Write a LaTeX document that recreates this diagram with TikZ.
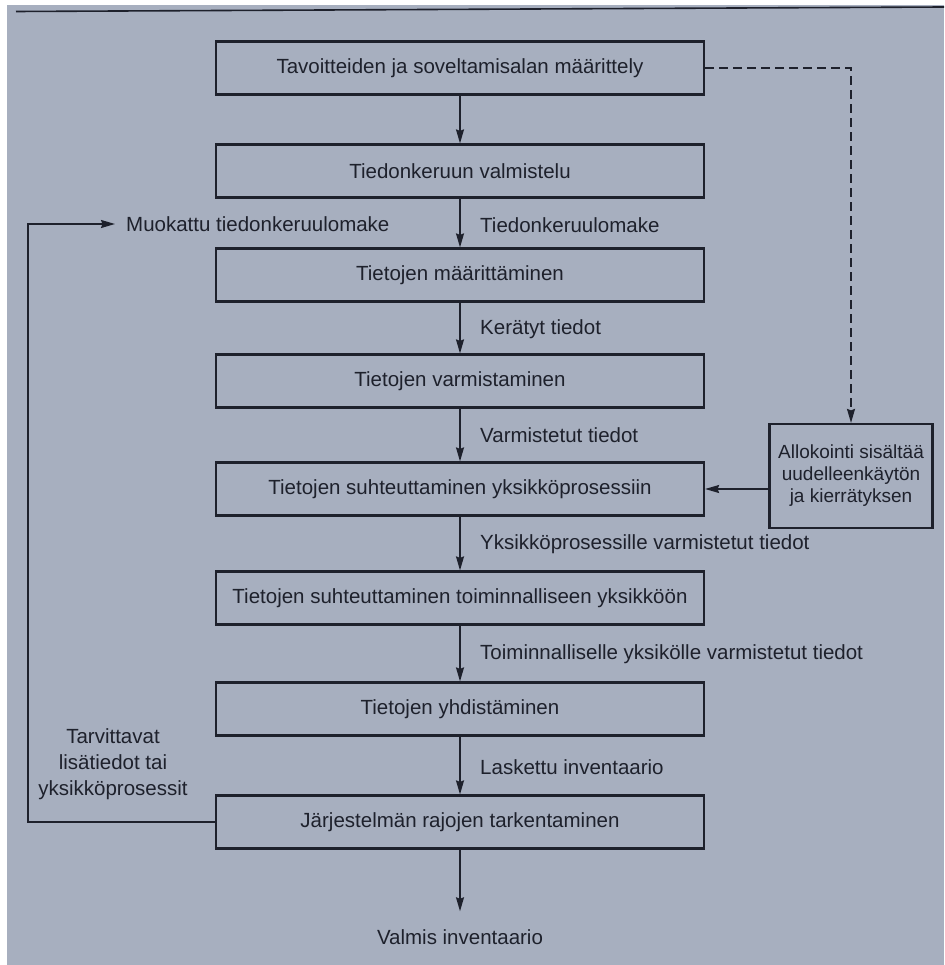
\documentclass[tikz,border=0pt]{standalone}
\usepackage{fontspec}
\setmainfont{Liberation Sans}
\usetikzlibrary{arrows.meta}
\definecolor{paper}{RGB}{167,175,191}
\definecolor{ink}{RGB}{30,33,44}
\begin{document}
\begin{tikzpicture}[x=1pt,y=-1pt,
  stepbox/.style={draw=ink, line width=2.2pt, minimum width=488pt,
    minimum height=53pt, inner sep=0pt, text=ink,
    font=\fontsize{20.5}{24}\selectfont},
  sidebox/.style={draw=ink, line width=2.2pt, minimum width=163pt,
    minimum height=104pt, inner sep=0pt, text=ink, align=center,
    font=\fontsize{19}{22}\selectfont},
  flowlabel/.style={anchor=west, inner sep=0pt, text=ink,
    font=\fontsize{20.5}{24}\selectfont},
  flow/.style={draw=ink, line width=1.5pt,
    -{Stealth[length=14pt,width=8pt,inset=1.5pt]}},
]
% page and the rule at its top
\useasboundingbox (0,0) rectangle (944,965);
\fill[white] (0,0) rectangle (944,965);
\fill[paper] (7,5) rectangle (944,965);
\draw[ink, line width=1.6pt] (16,11.5) -- (944,7);

% main chain of steps
\node[stepbox] (b1) at (460,68)  {Tavoitteiden ja soveltamisalan määrittely};
\node[stepbox] (b2) at (460,171) {Tiedonkeruun valmistelu};
\node[stepbox] (b3) at (460,275) {Tietojen määrittäminen};
\node[stepbox] (b4) at (460,381) {Tietojen varmistaminen};
\node[stepbox] (b5) at (460,489) {Tietojen suhteuttaminen yksikköprosessiin};
\node[stepbox] (b6) at (460,598) {Tietojen suhteuttaminen toiminnalliseen yksikköön};
\node[stepbox] (b7) at (460,709) {Tietojen yhdistäminen};
\node[stepbox] (b8) at (460,822) {Järjestelmän rajojen tarkentaminen};

% allocation note on the right
\node[sidebox] (alloc) at (851,476)
  {Allokointi sisältää\\uudelleenkäytön\\ja kierrätyksen};

% labels beside the arrows
\node[flowlabel] (l2) at (480,225) {Tiedonkeruulomake};
\node[flowlabel] (l3) at (480,329) {Kerätyt tiedot};
\node[flowlabel] (l4) at (480,435) {Varmistetut tiedot};
\node[flowlabel] (l5) at (480,544) {Yksikköprosessille varmistetut tiedot};
\node[flowlabel] (l6) at (480,654) {Toiminnalliselle yksikölle varmistetut tiedot};
\node[flowlabel] (l7) at (480,767) {Laskettu inventaario};

% feedback labels
\node[flowlabel, inner xsep=11pt] (muok) at (115,224) {Muokattu tiedonkeruulomake};
\node[text=ink, align=center, inner sep=0pt,
  font=\fontsize{20.5}{26}\selectfont] (tarv) at (113,764)
  {Tarvittavat\\lisätiedot tai\\yksikköprosessit};

% final result
\node[text=ink, inner xsep=0pt, inner ysep=18pt,
  font=\fontsize{20.5}{24}\selectfont] (valmis) at (460,937) {Valmis inventaario};

% connectors
\draw[flow] (b1) -- (b2);
\draw[flow] (b2) -- (b3);
\draw[flow] (b3) -- (b4);
\draw[flow] (b4) -- (b5);
\draw[flow] (b5) -- (b6);
\draw[flow] (b6) -- (b7);
\draw[flow] (b7) -- (b8);
\draw[flow] (b8) -- (valmis.north);
\draw[flow] (b8.west) -| (28,500) |- (muok.west);
\draw[flow, dash pattern=on 9pt off 5pt] (b1.east) -| (alloc.north);
\draw[flow] (b5.east -| alloc.west) -- (b5.east);
\end{tikzpicture}
\end{document}
